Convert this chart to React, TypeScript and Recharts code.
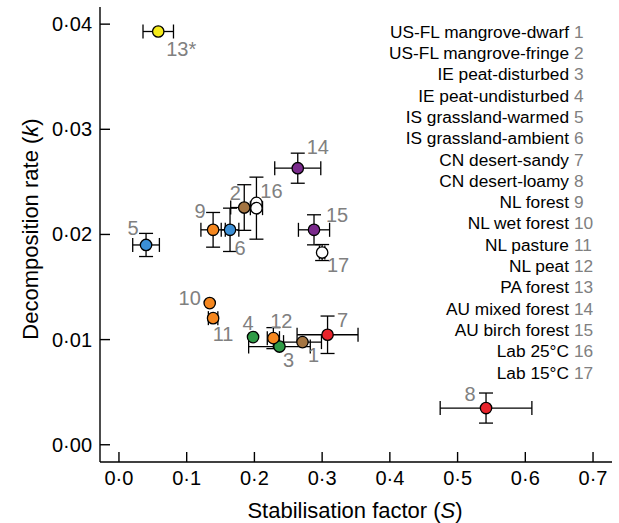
import React from 'react';
import { ScatterChart, Scatter, XAxis, YAxis, ErrorBar } from 'recharts';

// ---- data ----
const pointLabels = ['1', '2', '3', '4', '5', '6', '7', '8', '9', '10', '11', '12', '13*', '14', '15', '', '16', '17'];
const stabilisation = [0.271, 0.185, 0.237, 0.198, 0.040, 0.164, 0.308, 0.542, 0.139, 0.134, 0.139, 0.228, 0.058, 0.264, 0.288, 0.203, 0.203, 0.300];
const decomposition = [0.00976, 0.02256, 0.00934, 0.01024, 0.0190, 0.02044, 0.01046, 0.00349, 0.02044, 0.01347, 0.01204, 0.01014, 0.0393, 0.0263, 0.02044, 0.0230, 0.0225, 0.01828];
const stabilisationErr = [0.028, 0.020, 0.0455, 0, 0.0197, 0.013, 0.045, 0.0677, 0.018, 0, 0.007, 0.009, 0.0225, 0.034, 0.023, 0, 0.009, 0.004];
const decompositionErr = [0, 0.00217, 0, 0, 0.0011, 0.00206, 0.00178, 0.00143, 0.00165, 0, 0, 0.001, 0, 0.00143, 0.00143, 0, 0.00295, 0.00076];

const legendNames = [
  'US-FL mangrove-dwarf', 'US-FL mangrove-fringe', 'IE peat-disturbed', 'IE peat-undisturbed',
  'IS grassland-warmed', 'IS grassland-ambient', 'CN desert-sandy', 'CN desert-loamy', 'NL forest',
  'NL wet forest', 'NL pasture', 'NL peat', 'PA forest', 'AU mixed forest', 'AU birch forest',
  'Lab 25°C', 'Lab 15°C',
];
const legendNumbers = ['1', '2', '3', '4', '5', '6', '7', '8', '9', '10', '11', '12', '13', '14', '15', '16', '17'];

const xTicks = [0, 0.1, 0.2, 0.3, 0.4, 0.5, 0.6, 0.7];
const yTicks = [0, 0.01, 0.02, 0.03, 0.04];

// ---- styles ----
const BROWN = '#a47542';
const GREEN = '#2f9b46';
const BLUE = '#3b8fd6';
const RED = '#e8232b';
const ORANGE = '#f5871f';
const YELLOW = '#f5eb1a';
const PURPLE = '#7a2a8c';
const WHITE = '#ffffff';
const pointColors = [BROWN, BROWN, GREEN, GREEN, BLUE, BLUE, RED, RED, ORANGE, ORANGE, ORANGE, ORANGE, YELLOW, PURPLE, PURPLE, WHITE, WHITE, WHITE];
// label offsets (px) from the marker centre
const labelOffsets: [number, number][] = [
  [11, 13], [-9, -15], [9, 13], [-5, -14], [-13, -17], [10, 18], [15, -15], [-16, -14], [-13, -19],
  [-20, -5], [10, 16], [8, -17], [23, 17], [20, -21], [23, -15], [0, 0], [15, -17], [16, 12],
];

const FONT = 'Liberation Sans, Arial, Helvetica, sans-serif';
const GREY = '#808080';

const data = stabilisation.map((s, i) => ({
  idx: i,
  s,
  k: decomposition[i],
  errS: stabilisationErr[i],
  errK: decompositionErr[i],
}));

const fmtX = (v: number) => v.toFixed(1).replace('.', '·');
const fmtY = (v: number) => v.toFixed(2).replace('.', '·');

const XTick = (p: any) => (
  <g>
    <line x1={p.x} x2={p.x} y1={p.y} y2={p.y - 10} stroke="#000" strokeWidth={1.4} />
    <text x={p.x} y={p.y + 23} textAnchor="middle" fontSize={20} fontFamily={FONT} fill="#000">
      {fmtX(p.payload.value)}
    </text>
  </g>
);

const YTick = (p: any) => (
  <g>
    <line x1={p.x} x2={p.x + 10} y1={p.y} y2={p.y} stroke="#000" strokeWidth={1.4} />
    <text x={p.x - 8} y={p.y} dy="0.35em" textAnchor="end" fontSize={20} fontFamily={FONT} fill="#000">
      {fmtY(p.payload.value)}
    </text>
  </g>
);

const PointShape = (p: any) => {
  const i = p.payload.idx;
  const [dx, dy] = labelOffsets[i];
  return (
    <g>
      <circle cx={p.cx} cy={p.cy} r={5.7} fill={pointColors[i]} stroke="#000" strokeWidth={1.3} />
      {pointLabels[i] ? (
        <text x={p.cx + dx} y={p.cy + dy} dy="0.35em" textAnchor="middle" fontSize={20} fontFamily={FONT} fill={GREY}>
          {pointLabels[i]}
        </text>
      ) : null}
    </g>
  );
};

export default function App() {
  return (
    <div style={{ position: 'absolute', left: 0, top: 0, width: 619, height: 523, background: '#fff' }}>
      <ScatterChart width={619} height={523} margin={{ top: 7, right: 7, left: 0, bottom: 0 }}>
        <XAxis
          type="number"
          dataKey="s"
          domain={[-0.028, 0.728]}
          ticks={xTicks}
          interval={0}
          height={61}
          tickSize={0}
          tickMargin={0}
          tickLine={false}
          axisLine={{ stroke: '#000', strokeWidth: 1.4 }}
          tick={<XTick />}
        />
        <XAxis xAxisId="top" orientation="top" type="number" domain={[-0.028, 0.728]} height={0} tick={false} tickLine={false} axisLine={{ stroke: '#000', strokeWidth: 1.4 }} />
        <YAxis
          type="number"
          dataKey="k"
          domain={[-0.00164, 0.04163]}
          ticks={yTicks}
          interval={0}
          width={100}
          tickSize={0}
          tickMargin={0}
          tickLine={false}
          axisLine={{ stroke: '#000', strokeWidth: 1.4 }}
          tick={<YTick />}
        />
        <YAxis yAxisId="right" orientation="right" type="number" domain={[-0.00164, 0.04163]} width={0} tick={false} tickLine={false} axisLine={{ stroke: '#000', strokeWidth: 1.4 }} />
        <Scatter data={data} isAnimationActive={false} shape={<PointShape />}>
          <ErrorBar dataKey="errS" direction="x" width={7} stroke="#000" strokeWidth={1.3} />
          <ErrorBar dataKey="errK" direction="y" width={7} stroke="#000" strokeWidth={1.3} />
        </Scatter>
      </ScatterChart>
      <svg width={619} height={523} style={{ position: 'absolute', left: 0, top: 0, pointerEvents: 'none' }}>
        {legendNames.map((n, i) => (
          <g key={n}>
            <text x={569} y={31.7 + i * 21.3} dy="0.35em" textAnchor="end" fontSize={17.3} fontFamily={FONT} fill="#000">{n}</text>
            <text x={574} y={31.7 + i * 21.3} dy="0.35em" textAnchor="start" fontSize={17.3} fontFamily={FONT} fill={GREY}>{legendNumbers[i]}</text>
          </g>
        ))}
        <text x={355} y={518} textAnchor="middle" fontSize={22} fontFamily={FONT} fill="#000">
          Stabilisation factor (<tspan fontStyle="italic">S</tspan>)
        </text>
        <text transform="translate(38,229) rotate(-90)" textAnchor="middle" fontSize={22} fontFamily={FONT} fill="#000">
          Decomposition rate (<tspan fontStyle="italic">k</tspan>)
        </text>
      </svg>
    </div>
  );
}
